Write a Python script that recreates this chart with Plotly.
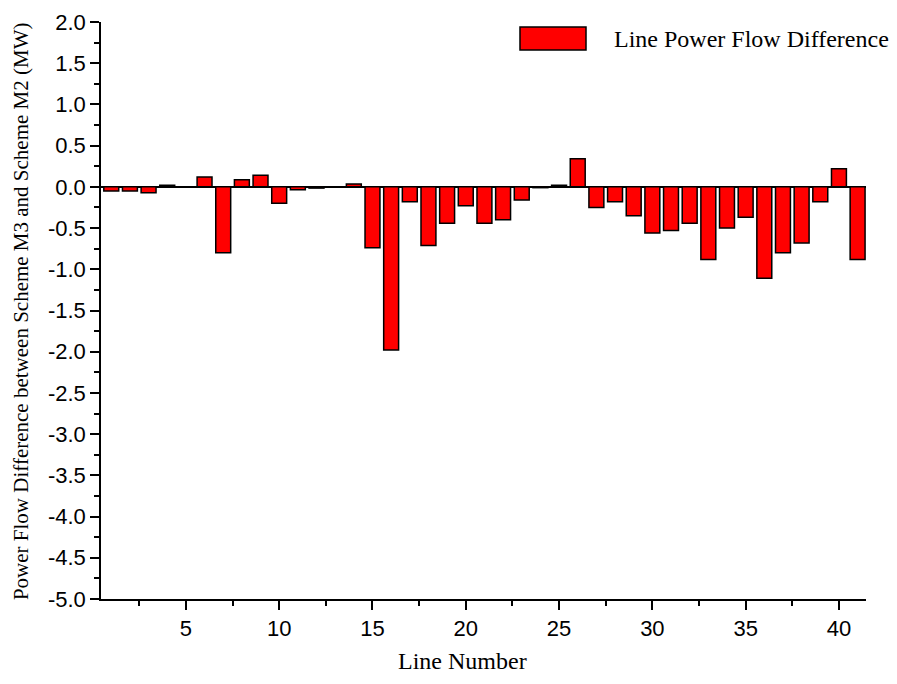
import plotly.graph_objects as go

line_numbers = list(range(1, 42))
flow_difference = [
    -0.05, -0.05, -0.07, 0.02, 0.0, 0.12, -0.80, 0.085, 0.14, -0.20,
    -0.035, -0.015, 0.0, 0.035, -0.74, -1.98, -0.18, -0.71, -0.44, -0.23,
    -0.44, -0.40, -0.16, -0.01, 0.02, 0.34, -0.25, -0.18, -0.35, -0.56,
    -0.53, -0.44, -0.88, -0.50, -0.37, -1.11, -0.80, -0.68, -0.18, 0.22,
    -0.88,
]
x_tick_vals = [5, 10, 15, 20, 25, 30, 35, 40]
y_tick_vals = [2.0, 1.5, 1.0, 0.5, 0.0, -0.5, -1.0, -1.5, -2.0, -2.5, -3.0,
               -3.5, -4.0, -4.5, -5.0]
y_tick_text = ["%.1f" % v for v in y_tick_vals]
series_name = "Line Power Flow Difference"
x_title = "Line Number"
y_title = "Power Flow Difference between Scheme M3 and Scheme M2 (MW)"

fig = go.Figure()
fig.add_trace(go.Bar(
    x=line_numbers, y=flow_difference, name=series_name,
    marker=dict(color="#FF0000", line=dict(color="black", width=1.5)),
    width=0.8, showlegend=False,
))

tick_font = dict(family="Liberation Sans, Arial, sans-serif", size=22, color="black")
serif = "Liberation Serif, Times New Roman, serif"

# page body has an 8px margin, so the figure is sized to fit inside 897x684
fig.update_layout(
    width=881, height=668,
    margin=dict(l=93, r=23, t=14, b=77, autoexpand=False),
    paper_bgcolor="white", plot_bgcolor="white",
    xaxis=dict(
        range=[0.45, 41.45], tickvals=x_tick_vals, ticktext=[str(v) for v in x_tick_vals],
        ticks="outside", ticklen=9, tickwidth=1.5, tickcolor="black",
        showline=True, linecolor="black", linewidth=1.5, showgrid=False,
        zeroline=False, tickfont=tick_font, automargin=False,
        minor=dict(dtick=2.5, tick0=0, ticks="outside", ticklen=5, tickwidth=1.5,
                   tickcolor="black", showgrid=False),
    ),
    yaxis=dict(
        range=[-5, 2], tickvals=y_tick_vals, ticktext=y_tick_text,
        ticks="outside", ticklen=9, tickwidth=1.5, tickcolor="black",
        showline=True, linecolor="black", linewidth=1.5, showgrid=False,
        zeroline=True, zerolinecolor="black", zerolinewidth=1.5,
        tickfont=tick_font, automargin=False,
        minor=dict(dtick=0.25, tick0=0, ticks="outside", ticklen=5, tickwidth=1.5,
                   tickcolor="black", showgrid=False),
    ),
    shapes=[dict(type="rect", xref="paper", yref="paper",
                 x0=0.5477, x1=0.634, y0=0.9515, y1=0.9913,
                 fillcolor="#FF0000", line=dict(color="black", width=1.5))],
    annotations=[
        dict(text=series_name, xref="paper", yref="paper", x=0.668, y=0.9714,
             xanchor="left", yanchor="middle", showarrow=False,
             font=dict(family=serif, size=24, color="black")),
        dict(text=x_title, xref="paper", yref="paper", x=0.4725, y=-0.108,
             xanchor="center", yanchor="middle", showarrow=False,
             font=dict(family=serif, size=24, color="black")),
        dict(text=y_title, xref="paper", yref="paper", x=-0.1046, y=0.499,
             xanchor="center", yanchor="middle", showarrow=False, textangle=-90,
             font=dict(family=serif, size=21, color="black")),
    ],
)

fig.write_html("out.html")
